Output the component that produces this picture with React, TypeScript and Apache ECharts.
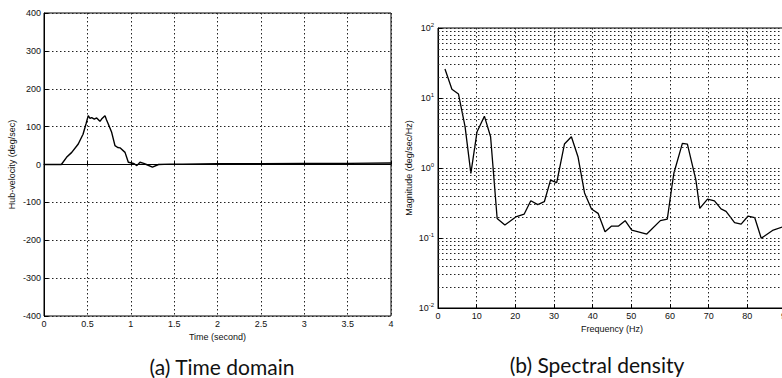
import React, { useEffect, useRef } from "react";
import * as echarts from "echarts";

// (a) Time domain
const timeValues = [0, 0.2, 0.26, 0.32, 0.395, 0.45, 0.484, 0.51, 0.53, 0.55, 0.58, 0.607, 0.645, 0.664, 0.703, 0.72, 0.741, 0.78, 0.818, 0.85, 0.876, 0.934, 0.972, 1.01, 1.04, 1.07, 1.107, 1.15, 1.18, 1.25, 1.32, 1.45, 1.6, 2, 2.5, 3, 3.5, 4];
const velocityValues = [0, 0, 19, 32, 54, 80, 107, 129, 122, 124, 120, 123, 114, 120, 129, 118, 107, 85, 50, 45, 44, 32, 6, 4, 2, -3, 6, 3, 0, -7, 0, 1, 1, 2, 2, 3, 3, 4];
const timeTicksInterval = 0.5;
const velocityTicksInterval = 100;

// (b) Spectral density
const freqValues = [1.8, 3.6, 5.3, 7.0, 8.5, 10.1, 12.0, 13.6, 15.3, 17.3, 20.1, 22.3, 24.0, 25.8, 27.5, 29.1, 30.7, 32.7, 34.5, 36.2, 37.9, 39.7, 41.4, 43.2, 44.9, 46.7, 48.4, 50.1, 54.0, 57.5, 59.3, 60.6, 61.0, 63.2, 64.5, 66.7, 67.7, 69.7, 71.5, 73.2, 74.5, 76.7, 78.4, 80.2, 81.9, 83.6, 86.7, 89.8];
const magnitudeValues = [26, 13.3, 11.4, 3.9, 0.84, 3.3, 5.5, 2.8, 0.19, 0.153, 0.2, 0.22, 0.34, 0.3, 0.33, 0.67, 0.62, 2.2, 2.8, 1.45, 0.44, 0.26, 0.225, 0.123, 0.148, 0.148, 0.177, 0.13, 0.114, 0.177, 0.186, 0.6, 0.84, 2.25, 2.2, 0.67, 0.265, 0.36, 0.34, 0.26, 0.24, 0.166, 0.158, 0.206, 0.196, 0.099, 0.13, 0.148];
const freqTicksInterval = 10;
const decadeExponents = [-2, -1, 0, 1];
const minorMultipliers = [2, 3, 4, 5, 6, 7, 8, 9];

const titleA = "(a) Time domain";
const titleB = "(b) Spectral density";

const labelFont = "Liberation Sans";
const gridDot = { color: "#222", width: 1, type: [1.5, 2.5] as number[] };

export default function App() {
  const ref = useRef<HTMLDivElement>(null);
  useEffect(() => {
    if (!ref.current) return;
    const chart = echarts.init(ref.current, undefined, { renderer: "svg" });
    const minorLines: { yAxis: number }[] = [];
    decadeExponents.forEach((e) =>
      minorMultipliers.forEach((m) => minorLines.push({ yAxis: m * Math.pow(10, e) }))
    );
    const axisLabel = { fontFamily: labelFont, fontSize: 9, color: "#111" };
    const nameStyle = { fontFamily: labelFont, fontSize: 9, color: "#111" };
    const titleStyle = { fontFamily: "Lato", fontSize: 21, fontWeight: "normal", color: "#111" };
    chart.setOption({
      animation: false,
      backgroundColor: "#fff",
      title: [
        { text: titleA, left: 217, top: 351, textAlign: "center", textStyle: titleStyle },
        { text: titleB, left: 592, top: 349, textAlign: "center", textStyle: titleStyle },
      ],
      grid: [
        { left: 44, top: 13, width: 347, height: 303, show: true, borderColor: "#000", borderWidth: 1, backgroundColor: "transparent", outerBoundsMode: "none", containLabel: false },
        { left: 438, top: 28, width: 348, height: 280, show: true, borderColor: "#000", borderWidth: 1, backgroundColor: "transparent", outerBoundsMode: "none", containLabel: false },
      ],
      xAxis: [
        {
          type: "value",
          gridIndex: 0,
          min: 0,
          max: 4,
          interval: timeTicksInterval,
          name: "Time (second)",
          nameLocation: "middle",
          nameGap: 15,
          nameTextStyle: nameStyle,
          axisLine: { lineStyle: { color: "#000" } },
          axisTick: { inside: true, length: 4, lineStyle: { color: "#000" } },
          axisLabel: { ...axisLabel, margin: 3, showMinLabel: true, showMaxLabel: true },
          splitLine: { show: true, lineStyle: gridDot },
        },
        {
          type: "value",
          gridIndex: 1,
          min: 0,
          max: 90,
          interval: freqTicksInterval,
          name: "Frequency (Hz)",
          nameLocation: "middle",
          nameGap: 14,
          nameTextStyle: nameStyle,
          axisLine: { lineStyle: { color: "#000" } },
          axisTick: { inside: true, length: 4, lineStyle: { color: "#000" } },
          axisLabel: { ...axisLabel, margin: 3, showMinLabel: true, showMaxLabel: true },
          splitLine: { show: true, lineStyle: gridDot },
        },
      ],
      yAxis: [
        {
          type: "value",
          gridIndex: 0,
          min: -400,
          max: 400,
          interval: velocityTicksInterval,
          name: "Hub-velocity (deg/sec)",
          nameLocation: "middle",
          nameGap: 28,
          nameTextStyle: nameStyle,
          axisLine: { show: true, lineStyle: { color: "#000" } },
          axisTick: { show: true, inside: true, length: 4, lineStyle: { color: "#000" } },
          axisLabel: { ...axisLabel, margin: 3 },
          splitLine: { show: true, lineStyle: gridDot },
        },
        {
          type: "log",
          gridIndex: 1,
          logBase: 10,
          min: 0.01,
          max: 100,
          name: "Magnitude (deg/sec/Hz)",
          nameLocation: "middle",
          nameGap: 25,
          nameTextStyle: nameStyle,
          axisLine: { show: true, lineStyle: { color: "#000" } },
          axisTick: { show: true, inside: true, length: 4, lineStyle: { color: "#000" } },
          axisLabel: {
            ...axisLabel,
            margin: 4,
            formatter: (v: number) => `10{s|${Math.round(Math.log10(v))}}`,
            rich: { s: { fontFamily: labelFont, fontSize: 6, color: "#111", padding: [0, 0, 7, 0] } },
          },
          splitLine: { show: true, lineStyle: gridDot },
        },
      ],
      series: [
        {
          type: "line",
          xAxisIndex: 0,
          yAxisIndex: 0,
          data: timeValues.map((t, i) => [t, velocityValues[i]]),
          showSymbol: false,
          lineStyle: { color: "#000", width: 1.4 },
          silent: true,
        },
        {
          type: "line",
          xAxisIndex: 1,
          yAxisIndex: 1,
          data: freqValues.map((f, i) => [f, magnitudeValues[i]]),
          showSymbol: false,
          lineStyle: { color: "#000", width: 1.3 },
          silent: true,
          markLine: {
            silent: true,
            symbol: "none",
            label: { show: false },
            lineStyle: gridDot,
            data: minorLines,
          },
        },
      ],
    });
    return () => chart.dispose();
  }, []);
  return <div ref={ref} style={{ position: "absolute", left: 0, top: 0, width: 782, height: 378 }} />;
}
